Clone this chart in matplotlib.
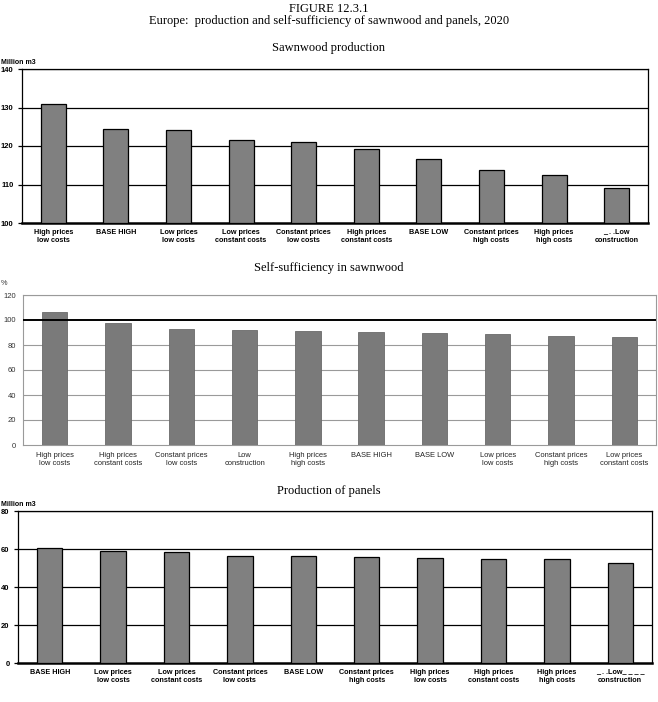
import numpy as np
import matplotlib
matplotlib.use("Agg")
import matplotlib.pyplot as plt

# Sawnwood production (million m3)
saw_labels = ["High prices\nlow costs", "BASE HIGH", "Low prices\nlow costs",
              "Low prices\nconstant costs", "Constant prices\nlow costs",
              "High prices\nconstant costs", "BASE LOW", "Constant prices\nhigh costs",
              "High prices\nhigh costs", "_ . .Low\nconstruction"]
saw_values = [130.9, 124.4, 124.1, 121.5, 121.0, 119.1, 116.5, 113.7, 112.4, 109.2]

# Self-sufficiency in sawnwood (%)
self_labels = ["High prices\nlow costs", "High prices\nconstant costs",
               "Constant prices\nlow costs", "Low\nconstruction",
               "High prices\nhigh costs", "BASE HIGH", "BASE LOW",
               "Low prices\nlow costs", "Constant prices\nhigh costs",
               "Low prices\nconstant costs"]
self_values = [106.4, 97.4, 92.9, 92.4, 91.6, 90.2, 89.7, 88.6, 87.6, 86.5]

# Production of panels (million m3)
pan_labels = ["BASE HIGH", "Low prices\nlow costs", "Low prices\nconstant costs",
              "Constant prices\nlow costs", "BASE LOW", "Constant prices\nhigh costs",
              "High prices\nlow costs", "High prices\nconstant costs",
              "High prices\nhigh costs", "_ . .Low_ _ _ _\nconstruction"]
pan_values = [60.7, 58.8, 58.3, 56.2, 56.2, 55.7, 55.1, 54.6, 54.6, 52.5]

W, H = 658, 702
fig = plt.figure(figsize=(W / 100, H / 100), dpi=100)
serif = "Liberation Serif"
sans = "Liberation Sans"


def box(l, r, t, b):
    return [l / W, 1 - b / H, (r - l) / W, (b - t) / H]


fig.text(0.5, 1 - 9 / H, "FIGURE 12.3.1", ha="center", va="center",
         family=serif, fontsize=9)
fig.text(0.5, 1 - 21 / H,
         "Europe:  production and self-sufficiency of sawnwood and panels, 2020",
         ha="center", va="center", family=serif, fontsize=9)


def dark_chart(ax, labels, values, ylo, yhi, step):
    x = np.arange(len(values))
    ax.bar(x, np.array(values) - ylo, bottom=ylo, width=0.4, color="#808080",
           edgecolor="black", linewidth=0.9, zorder=3)
    ax.set_xlim(-0.5, len(values) - 0.5)
    ax.set_ylim(ylo, yhi)
    ticks = np.arange(ylo, yhi + 1, step)
    ax.set_yticks(ticks)
    ax.set_yticklabels([str(int(t)) for t in ticks], family=sans,
                       fontsize=5.5, fontweight="bold")
    for t in ticks[1:]:
        ax.axhline(t, color="black", linewidth=0.9, zorder=1)
    ax.set_xticks(x)
    ax.set_xticklabels(labels, family=sans, fontsize=5.2, fontweight="bold",
                       linespacing=1.3)
    ax.tick_params(axis="x", length=0, pad=4)
    ax.tick_params(axis="y", length=3, width=0.9, pad=3)
    for s in ["top", "right", "left"]:
        ax.spines[s].set_linewidth(0.9)
    ax.spines["bottom"].set_linewidth(1.8)


ax1 = fig.add_axes(box(22, 648, 69, 223))
dark_chart(ax1, saw_labels, saw_values, 100, 140, 10)
fig.text(0.5, 1 - 48 / H, "Sawnwood production", ha="center", va="center",
         family=serif, fontsize=9)
fig.text(1 / W, 1 - 63 / H, "Million m3", ha="left", va="center",
         family=sans, fontsize=5, fontweight="bold")

# self-sufficiency chart (scanned look, grey frame)
ax2 = fig.add_axes(box(23, 656, 295, 445))
x = np.arange(len(self_values))
ax2.bar(x, self_values, width=0.4, color="#7a7a7a", edgecolor="#6a6a6a",
        linewidth=0.6, zorder=3)
ax2.set_xlim(-0.5, len(self_values) - 0.5)
ax2.set_ylim(0, 120)
ax2.set_yticks(np.arange(0, 121, 20))
ax2.set_yticklabels([str(v) for v in range(0, 121, 20)], family=sans,
                    fontsize=5.5, color="#333333")
for t in range(20, 121, 20):
    if t != 100:
        ax2.axhline(t, color="#9a9a9a", linewidth=0.8, zorder=1)
ax2.axhline(100, color="black", linewidth=1.4, zorder=4)
ax2.set_xticks(x)
ax2.set_xticklabels(self_labels, family=sans, fontsize=5.4, color="#222222",
                    linespacing=1.15)
ax2.tick_params(axis="x", length=0, pad=5)
ax2.tick_params(axis="y", length=0, pad=5)
for s in ax2.spines.values():
    s.set_color("#9a9a9a")
    s.set_linewidth(0.8)
fig.text(0.5, 1 - 268 / H, "Self-sufficiency in sawnwood", ha="center",
         va="center", family=serif, fontsize=9)
fig.text(1 / W, 1 - 283 / H, "%", ha="left", va="center", family=sans,
         fontsize=5.3, color="#333333")

ax3 = fig.add_axes(box(18, 652, 511, 663))
dark_chart(ax3, pan_labels, pan_values, 0, 80, 20)
fig.text(0.5, 1 - 491 / H, "Production of panels", ha="center", va="center",
         family=serif, fontsize=9)
fig.text(1 / W, 1 - 504 / H, "Million m3", ha="left", va="center",
         family=sans, fontsize=5, fontweight="bold")

fig.savefig("out.png", dpi=100)
